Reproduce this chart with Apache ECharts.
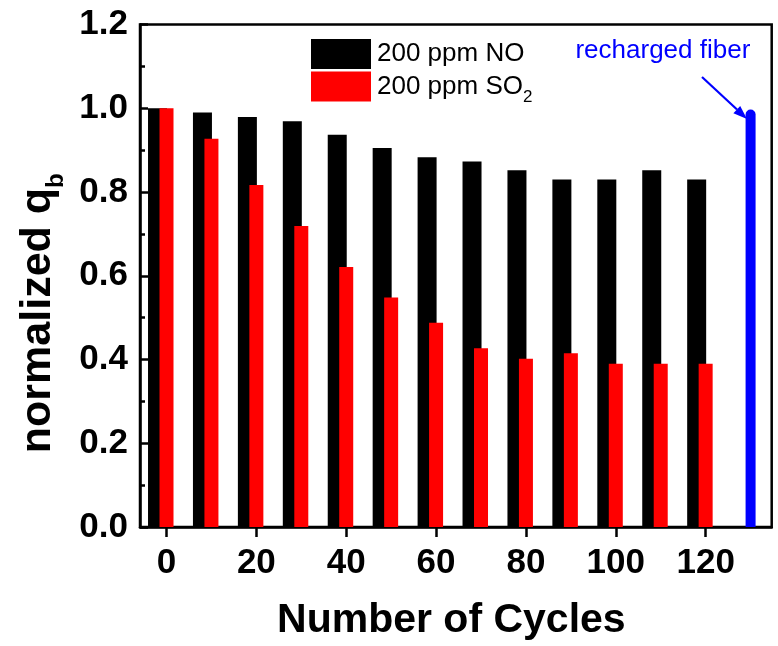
<!DOCTYPE html>
<html>
<head>
<meta charset="utf-8">
<script src="https://cdn.jsdelivr.net/npm/echarts@6/dist/echarts.min.js"></script>
<style>
  html, body { margin: 0; padding: 0; background: #fff; }
  #chart { width: 778px; height: 646px; }
</style>
</head>
<body>
<div id="chart"></div>
<script>
// ---- data ----
const cycles = [0, 10, 20, 30, 40, 50, 60, 70, 80, 90, 100, 110, 120];
const noValues = [1.00, 0.99, 0.979, 0.969, 0.937, 0.905, 0.883, 0.873, 0.852, 0.830, 0.830, 0.852, 0.830];
const so2Values = [1.00, 0.927, 0.817, 0.719, 0.621, 0.548, 0.488, 0.427, 0.402, 0.415, 0.390, 0.390, 0.390];
const rechargedCycles = [130];
const rechargedValues = [0.997];
const xTicks = [0, 20, 40, 60, 80, 100, 120];
const seriesNames = ['200 ppm NO', '200 ppm SO2'];

// ---- layout ----
const X_MIN = -5.9, X_MAX = 134.7;
const NO_SHIFT = 2; // NO columns are drawn 2 cycles left of the SO2 columns
const FONT = "'Liberation Sans', Arial, sans-serif";

const chart = echarts.init(document.getElementById('chart'), null, { renderer: 'canvas' });

const pairs = (xs, ys) => xs.map((x, i) => [x, ys[i]]);

const option = {
  animation: false,
  backgroundColor: '#fff',
  grid: {
    left: 140, right: 6.3, top: 24.5, bottom: 114.3,
    show: true, borderColor: '#000', borderWidth: 2.5, containLabel: false
  },
  legend: {
    data: seriesNames,
    orient: 'vertical',
    left: 311, top: 39, padding: 0,
    itemWidth: 60, itemHeight: 30, itemGap: 2.4,
    icon: 'rect',
    selectedMode: false,
    formatter: function (name) {
      if (name === seriesNames[1]) return '{m|200 ppm SO}{s|2}';
      return '{m|' + name + '}';
    },
    textStyle: {
      color: '#000', fontFamily: FONT, fontSize: 26,
      rich: {
        m: { fontSize: 26, lineHeight: 26, fontFamily: FONT, color: '#000', padding: [0, 0, 0, 1] },
        s: { fontSize: 17, lineHeight: 17, fontFamily: FONT, color: '#000',
             verticalAlign: 'bottom', padding: [0, 0, -6.6, 0] }
      }
    }
  },
  xAxis: [
    {
      type: 'value', min: X_MIN, max: X_MAX,
      position: 'bottom',
      name: 'Number of Cycles', nameLocation: 'middle', nameGap: 73,
      nameTextStyle: { fontFamily: FONT, fontSize: 41, fontWeight: 'bold', color: '#000', padding: [0, 9, 0, 0] },
      axisLine: { show: true, onZero: false, lineStyle: { color: '#000', width: 2.5 } },
      axisTick: { show: true, inside: false, length: 10, lineStyle: { color: '#000', width: 2.5 }, customValues: xTicks },
      axisLabel: { show: true, margin: 19, fontFamily: FONT, fontSize: 35, fontWeight: 'bold', color: '#000', customValues: xTicks },
      splitLine: { show: false },
      minorTick: { show: false }
    },
    { type: 'value', min: X_MIN + NO_SHIFT, max: X_MAX + NO_SHIFT, show: false, splitLine: { show: false } },
    { type: 'value', min: X_MIN, max: X_MAX, show: false, splitLine: { show: false } }
  ],
  yAxis: {
    type: 'value', min: 0, max: 1.2, interval: 0.2,
    name: '{m|normalized q}{s|b}', nameLocation: 'middle', nameRotate: 90, nameGap: 76.7,
    nameTextStyle: {
      fontFamily: FONT, fontSize: 43, fontWeight: 'bold', color: '#000',
      padding: [0, 75, 0, 0],
      rich: {
        m: { fontFamily: FONT, fontSize: 43, lineHeight: 43, fontWeight: 'bold', color: '#000' },
        s: { fontFamily: FONT, fontSize: 24, lineHeight: 24, fontWeight: 'bold', color: '#000',
             verticalAlign: 'bottom', padding: [0, 0, -8.5, 0] }
      }
    },
    axisLine: { show: true, onZero: false, lineStyle: { color: '#000', width: 2.5 } },
    axisTick: { show: true, inside: true, length: 8, lineStyle: { color: '#000', width: 2.5 } },
    minorTick: { show: true, splitNumber: 2, length: 5, lineStyle: { color: '#000', width: 2.5 } },
    axisLabel: {
      margin: 12, fontFamily: FONT, fontSize: 35, fontWeight: 'bold', color: '#000',
      formatter: v => v.toFixed(1)
    },
    splitLine: { show: false },
    minorSplitLine: { show: false }
  },
  series: [
    {
      name: seriesNames[0], type: 'bar', xAxisIndex: 1,
      barWidth: 19, itemStyle: { color: '#000000' },
      data: pairs(cycles, noValues)
    },
    {
      name: seriesNames[1], type: 'bar', xAxisIndex: 0,
      barWidth: 14, itemStyle: { color: '#ff0000' },
      data: pairs(cycles, so2Values)
    },
    {
      name: 'recharged fiber', type: 'bar', xAxisIndex: 2,
      barWidth: 10, itemStyle: { color: '#0000ff', borderRadius: [5, 5, 0, 0] },
      data: pairs(rechargedCycles, rechargedValues)
    }
  ],
  graphic: [
    {
      type: 'text', x: 662.9, y: 51,
      style: { text: 'recharged fiber', fill: '#0000ff', font: '26px ' + FONT,
               textAlign: 'center', textVerticalAlign: 'middle', verticalAlign: 'middle' }
    },
    {
      type: 'line',
      shape: { x1: 702, y1: 77, x2: 737, y2: 109.5 },
      style: { stroke: '#0000ff', lineWidth: 2.2 }
    },
    {
      type: 'polygon',
      shape: { points: [[747, 119], [733.4, 113.2], [740.2, 105.9]] },
      style: { fill: '#0000ff' }
    }
  ]
};

chart.setOption(option);
</script>
</body>
</html>
